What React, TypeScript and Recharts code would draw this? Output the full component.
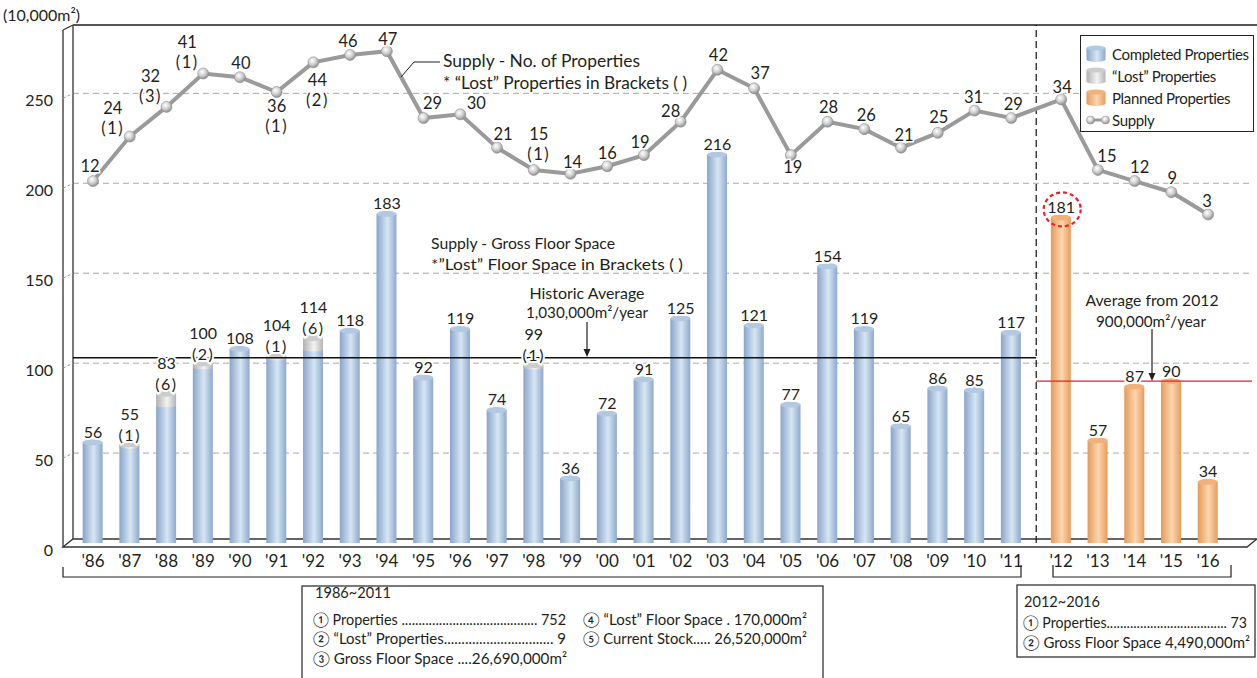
import React from 'react'
import {
  ComposedChart, Bar, Line, XAxis, YAxis, CartesianGrid,
  ReferenceLine, ReferenceArea, LabelList, Legend,
} from 'recharts'

const years = ["'86", "'87", "'88", "'89", "'90", "'91", "'92", "'93", "'94", "'95", "'96", "'97", "'98", "'99", "'00", "'01", "'02", "'03", "'04", "'05", "'06", "'07", "'08", "'09", "'10", "'11", "'12", "'13", "'14", "'15", "'16"]
// gross floor space, 10,000 m2 (lost space included)
const grossFloorSpace = [56, 55, 83, 100, 108, 104, 114, 118, 183, 92, 119, 74, 99, 36, 72, 91, 125, 216, 121, 77, 154, 119, 65, 86, 85, 117, 181, 57, 87, 90, 34]
const lostFloorSpace = [0, 1, 6, 2, 0, 1, 6, 0, 0, 0, 0, 0, 1, 0, 0, 0, 0, 0, 0, 0, 0, 0, 0, 0, 0, 0, 0, 0, 0, 0, 0]
const properties = [12, 24, 32, 41, 40, 36, 44, 46, 47, 29, 30, 21, 15, 14, 16, 19, 28, 42, 37, 19, 28, 26, 21, 25, 31, 29, 34, 15, 12, 9, 3]
const lostProperties = [0, 1, 3, 1, 0, 1, 2, 0, 0, 0, 0, 0, 1, 0, 0, 0, 0, 0, 0, 0, 0, 0, 0, 0, 0, 0, 0, 0, 0, 0, 0]
const yTicks = [0, 50, 100, 150, 200, 250]
const historicAverage = 103
const plannedAverage = 90
const PLANNED_FROM = 26 // '12 onwards are planned

// layout
const GAP = 0.36
const positions = years.map((_, i) => i + (i >= PLANNED_FROM ? GAP : 0))
const SEP = (positions[PLANNED_FROM - 1] + positions[PLANNED_FROM]) / 2
const X_MIN = -0.545
const X_MAX = 31.555
const RIGHT_DOMAIN = [-85.55, 54.07]
// where each supply label sits relative to its point [dx, dy]
const supplyLabelOffset = [
  [-3, -15], [-17, -29], [-16, -31], [-16, -31], [1, -14], [0, 14], [4, 18], [-2, -14], [1, -12], [9, -15],
  [16, -11], [6, -14], [5, -36], [2, -12], [0, -13], [-4, -13], [-10, -11], [1, -15], [6, -15], [2, 12],
  [1, -15], [2, -14], [3, -13], [1, -16], [-1, -14], [2, -14], [1, -12], [9, -14], [5, -14], [1, -14], [-1, -13],
]

const SANS = 'Lato, "Open Sans", sans-serif'
const INK = '#231f20'

const rows = years.map((year, i) => ({
  year,
  pos: positions[i],
  completed: i < PLANNED_FROM ? grossFloorSpace[i] - lostFloorSpace[i] : 0,
  lost: i < PLANNED_FROM ? lostFloorSpace[i] : 0,
  planned: i >= PLANNED_FROM ? grossFloorSpace[i] : 0,
  gross: grossFloorSpace[i],
  properties: properties[i],
}))

const CYL: Record<string, { grad: string; top: string }> = {
  blue: { grad: 'cylBlue', top: '#b3c8e1' },
  gray: { grad: 'cylGray', top: '#cdcdcd' },
  orange: { grad: 'cylOrange', top: '#f0b27a' },
}

function Cylinder(props: any) {
  const { x, y, width, height, kind } = props
  if (!(height > 0.5)) return null
  const c = CYL[kind]
  const cx = x + width / 2
  const rx = width / 2
  return (
    <g>
      <ellipse cx={cx} cy={y + height} rx={rx} ry={3} fill={`url(#${c.grad})`} />
      <rect x={x} y={y} width={width} height={height} fill={`url(#${c.grad})`} />
      <ellipse cx={cx} cy={y} rx={rx} ry={3} fill={c.top} />
    </g>
  )
}

const pick = (a: any, b: any) => (typeof a === 'number' ? a : b)

function TotalLabel(props: any) {
  const i = props.index
  const x = pick(props.x, props.viewBox?.x)
  const y = pick(props.y, props.viewBox?.y)
  const lost = lostFloorSpace[i]
  const common = {
    textAnchor: 'middle' as const, dominantBaseline: 'central' as const, fill: INK,
    fontFamily: SANS, fontSize: 16, stroke: '#fff', strokeWidth: 4, paintOrder: 'stroke' as any,
  }
  return (
    <g>
      <text x={x} y={lost > 0 ? y - 31 : y - 11} {...common}>{props.value}</text>
      {lost > 0 && <text x={x} y={y - 10} letterSpacing={1.5} {...common}>({lost})</text>}
      {i === PLANNED_FROM && (
        <ellipse cx={x + 1} cy={y - 8} rx={18.5} ry={17} fill="none" stroke="#e8202a" strokeWidth={2.2} strokeDasharray="4 3" />
      )}
    </g>
  )
}

function SupplyLabel(props: any) {
  const i = props.index
  const x = pick(props.x, props.viewBox?.x)
  const y = pick(props.y, props.viewBox?.y)
  const [dx, dy] = supplyLabelOffset[i]
  const lost = lostProperties[i]
  const common = {
    textAnchor: 'middle' as const, dominantBaseline: 'central' as const, fill: INK,
    fontFamily: SANS, fontSize: 16.5, stroke: '#fff', strokeWidth: 3, paintOrder: 'stroke' as any,
  }
  return (
    <g>
      <text x={x + dx} y={y + dy} {...common}>{props.value}</text>
      {lost > 0 && <text x={x + dx} y={y + dy + 20} letterSpacing={1.5} {...common}>({lost})</text>}
    </g>
  )
}

function SupplyDot(p: any) {
  return <circle key={p.index} cx={p.cx} cy={p.cy} r={5.5} fill="url(#dotGrad)" stroke="#8d8d8d" strokeWidth={0.6} />
}

function Frame(props: any) {
  const { x, y, width, height } = props
  const b = y + height
  return (
    <g fill="none" stroke="#333" strokeWidth={1.3}>
      <path d={`M${x - 10} ${b + 4} L${x} ${b - 4} H${x + width + 5} L${x + width - 5} ${b + 4} Z`} fill="#fff" />
      <path d={`M${x} ${y} V${b - 4} M${x - 10} ${y + 5} L${x} ${y} M${x - 10} ${y + 5} V${b + 4}`} />
      <path d={`M${x} ${y} H${x + width + 5}`} stroke="#555" strokeWidth={1.8} />
    </g>
  )
}

function YTick(props: any) {
  const { x, y, payload } = props
  return (
    <g>
      {payload.value > 0 && (
        <line x1={x - 10} y1={y + 5} x2={x} y2={y} stroke="#999" strokeDasharray="3 2" />
      )}
      <text x={x - 20} y={y + 6} textAnchor="end" dominantBaseline="central" fontFamily={SANS} fontSize={16} fill={INK}>
        {payload.value}
      </text>
    </g>
  )
}

function XTick(props: any) {
  const { x, y, payload } = props
  const i = positions.findIndex(p => Math.abs(p - payload.value) < 1e-6)
  return (
    <text x={x} y={y + 17} textAnchor="middle" dominantBaseline="central" fontFamily={SANS} fontSize={17} fill={INK}>
      {years[i]}
    </text>
  )
}

function CylIcon({ grad, top }: { grad: string; top: string }) {
  return (
    <svg width={20} height={18}>
      <ellipse cx={10} cy={14.5} rx={9.5} ry={2.5} fill={`url(#${grad})`} />
      <rect x={0.5} y={3} width={19} height={11.5} fill={`url(#${grad})`} />
      <ellipse cx={10} cy={3} rx={9.5} ry={2.5} fill={top} />
    </svg>
  )
}

function LegendBox() {
  const items = [
    { label: 'Completed Properties', icon: <CylIcon grad="cylBlue" top="#b3c8e1" /> },
    { label: '\u201cLost\u201d Properties', icon: <CylIcon grad="cylGray" top="#cdcdcd" /> },
    { label: 'Planned Properties', icon: <CylIcon grad="cylOrange" top="#f0b27a" /> },
    {
      label: 'Supply',
      icon: (
        <svg width={24} height={18}>
          <line x1={4} y1={9} x2={20} y2={9} stroke="#9a9a9a" strokeWidth={3} />
          <circle cx={4.5} cy={9} r={4} fill="url(#dotGrad)" stroke="#8d8d8d" strokeWidth={0.5} />
          <circle cx={19.5} cy={9} r={4} fill="url(#dotGrad)" stroke="#8d8d8d" strokeWidth={0.5} />
        </svg>
      ),
    },
  ]
  return (
    <div style={{
      width: 174, height: 97, boxSizing: 'border-box', border: '1.5px solid #222', background: '#fff',
      padding: '7px 0 0 5px', fontFamily: SANS, fontSize: 15, color: INK, lineHeight: '22px',
    }}>
      {items.map(it => (
        <div key={it.label} style={{ display: 'flex', alignItems: 'center', height: 22 }}>
          <div style={{ width: 26, display: 'flex', alignItems: 'center', justifyContent: 'flex-start' }}>{it.icon}</div>
          <span style={{ whiteSpace: 'nowrap', letterSpacing: -0.35 }}>{it.label}</span>
        </div>
      ))}
    </div>
  )
}

function Annotations() {
  const t = { fontFamily: SANS, fill: INK, lengthAdjust: 'spacingAndGlyphs' as const }
  return (
    <svg width={1257} height={678} style={{ position: 'absolute', left: 0, top: 0, pointerEvents: 'none' }}>
      <text x={3} y={21} fontSize={16} textLength={77} {...t}>(10,000m²)</text>

      <polyline points="401,77 414,62 440,62" fill="none" stroke={INK} strokeWidth={1} />
      <text x={443} y={67} fontSize={17} textLength={197} {...t}>Supply - No. of Properties</text>
      <text x={443} y={89} fontSize={17} textLength={244} {...t}>* “Lost” Properties in Brackets ( )</text>

      <text x={431} y={249} fontSize={16} textLength={184} {...t}>Supply - Gross Floor Space</text>
      <text x={431} y={270} fontSize={16} textLength={252} {...t}>*”Lost” Floor Space in Brackets ( )</text>

      <text x={587} y={299} fontSize={15} textAnchor="middle" textLength={115} {...t}>Historic Average</text>
      <text x={587} y={318} fontSize={15} textAnchor="middle" textLength={122} {...t}>1,030,000m²/year</text>
      <line x1={587} y1={322} x2={587} y2={351} stroke={INK} strokeWidth={1.2} />
      <polygon points="583.5,349 590.5,349 587,357" fill={INK} />

      <text x={1152} y={306} fontSize={15} textAnchor="middle" textLength={133} {...t}>Average from 2012</text>
      <text x={1151} y={327} fontSize={15} textAnchor="middle" textLength={110} {...t}>900,000m²/year</text>
      <line x1={1152} y1={329} x2={1152} y2={375} stroke={INK} strokeWidth={1.2} />
      <polygon points="1148.5,373 1155.5,373 1152,381" fill={INK} />

      <path d="M63 567 V577 H1021 V565 M1053 565 V577 H1231 V565" fill="none" stroke={INK} strokeWidth={1.2} />

      <rect x={302} y={586} width={521} height={100} fill="#fff" stroke="#333" strokeWidth={1.3} />
      <text x={315} y={598} fontSize={14.5} {...t} textLength={76}>1986~2011</text>
      <text x={313} y={625} fontSize={14.5} {...t} textLength={253}>① Properties ........................................ 752</text>
      <text x={313} y={644} fontSize={14.5} {...t} textLength={253}>② “Lost” Properties............................... 9</text>
      <text x={313} y={664} fontSize={14.5} {...t} textLength={254}>③ Gross Floor Space ....26,690,000m²</text>
      <text x={583} y={625} fontSize={14.5} {...t} textLength={224}>④ “Lost” Floor Space . 170,000m²</text>
      <text x={583} y={644} fontSize={14.5} {...t} textLength={224}>⑤ Current Stock..... 26,520,000m²</text>

      <rect x={1017} y={585} width={238} height={72} fill="#fff" stroke="#333" strokeWidth={1.3} />
      <text x={1024} y={607} fontSize={14.5} {...t} textLength={76}>2012~2016</text>
      <text x={1023} y={628} fontSize={14.5} {...t} textLength={224}>① Properties.................................... 73</text>
      <text x={1023} y={648} fontSize={14.5} {...t} textLength={227}>② Gross Floor Space 4,490,000m²</text>
    </svg>
  )
}

export default function App() {
  return (
    <div style={{ position: 'absolute', left: 0, top: 0, width: 1257, height: 678, background: '#fff' }}>
      <svg width={0} height={0} style={{ position: 'absolute' }}>
        <defs>
          <linearGradient id="cylBlue" x1="0" x2="1" y1="0" y2="0">
            <stop offset="0" stopColor="#8aa5ca" />
            <stop offset="0.55" stopColor="#d6e6f3" />
            <stop offset="1" stopColor="#8fa9cd" />
          </linearGradient>
          <linearGradient id="cylGray" x1="0" x2="1" y1="0" y2="0">
            <stop offset="0" stopColor="#b0b0b0" />
            <stop offset="0.55" stopColor="#f3f3f3" />
            <stop offset="1" stopColor="#b4b4b4" />
          </linearGradient>
          <linearGradient id="cylOrange" x1="0" x2="1" y1="0" y2="0">
            <stop offset="0" stopColor="#e59a58" />
            <stop offset="0.55" stopColor="#fcd6b0" />
            <stop offset="1" stopColor="#e69c5b" />
          </linearGradient>
          <radialGradient id="dotGrad" cx="0.4" cy="0.35" r="0.65">
            <stop offset="0" stopColor="#ffffff" />
            <stop offset="0.55" stopColor="#cfcfcf" />
            <stop offset="1" stopColor="#8e8e8e" />
          </radialGradient>
        </defs>
      </svg>
      <ComposedChart
        width={1257}
        height={678}
        data={rows}
        margin={{ top: 25, right: 5, bottom: 105, left: 0 }}
        barGap={0}
      >
        <XAxis
          dataKey="pos"
          type="number"
          domain={[X_MIN, X_MAX]}
          allowDataOverflow
          ticks={positions}
          interval={0}
          tick={<XTick />}
          tickSize={0}
          tickMargin={0}
          axisLine={false}
          tickLine={false}
          height={30}
        />
        <YAxis
          yAxisId="left"
          domain={[0, 288]}
          allowDataOverflow
          ticks={yTicks}
          tick={<YTick />}
          tickSize={0}
          tickMargin={0}
          axisLine={false}
          tickLine={false}
          width={73}
        />
        <YAxis yAxisId="right" orientation="right" domain={RIGHT_DOMAIN} allowDataOverflow hide />
        <ReferenceArea yAxisId="left" shape={<Frame />} ifOverflow="visible" />
        <CartesianGrid yAxisId="left" vertical={false} stroke="#a8a8a8" strokeDasharray="6 4" />
        <ReferenceLine
          yAxisId="left"
          segment={[{ x: X_MIN, y: historicAverage }, { x: SEP, y: historicAverage }]}
          stroke="#111"
          strokeWidth={1.3}
        />
        <ReferenceLine
          yAxisId="left"
          segment={[{ x: SEP, y: plannedAverage }, { x: X_MAX, y: plannedAverage }]}
          stroke="#e3232b"
          strokeWidth={1.3}
        />
        <ReferenceLine yAxisId="left" x={SEP} stroke="#111" strokeWidth={1.2} strokeDasharray="7 4" />
        <Bar yAxisId="left" dataKey="completed" name="Completed Properties" stackId="a" barSize={20}
          shape={(p: any) => <Cylinder {...p} kind="blue" />} isAnimationActive={false} />
        <Bar yAxisId="left" dataKey="lost" name="“Lost” Properties" stackId="a" barSize={20}
          shape={(p: any) => <Cylinder {...p} kind="gray" />} isAnimationActive={false} />
        <Bar yAxisId="left" dataKey="planned" name="Planned Properties" stackId="a" barSize={20}
          shape={(p: any) => <Cylinder {...p} kind="orange" />} isAnimationActive={false} />
        <Line yAxisId="left" dataKey="gross" stroke="none" dot={false} activeDot={false} legendType="none" isAnimationActive={false}>
          <LabelList dataKey="gross" content={<TotalLabel />} />
        </Line>
        <Line
          yAxisId="right"
          dataKey="properties"
          name="Supply"
          stroke="#9a9a9a"
          strokeWidth={4}
          dot={SupplyDot}
          activeDot={false}
          isAnimationActive={false}
        >
          <LabelList dataKey="properties" content={<SupplyLabel />} />
        </Line>
        <Legend
          layout="vertical"
          align="center"
          verticalAlign="middle"
          content={() => <LegendBox />}
          wrapperStyle={{ left: 1080, top: 35, width: 174, height: 97 }}
        />
      </ComposedChart>
      <Annotations />
    </div>
  )
}
